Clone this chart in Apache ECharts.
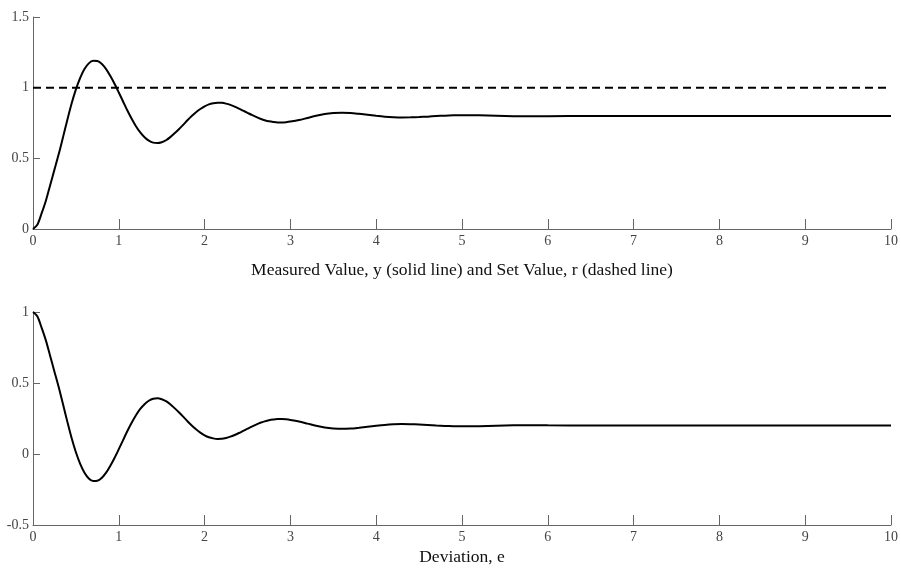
<!DOCTYPE html>
<html>
<head>
<meta charset="utf-8">
<script src="https://cdn.jsdelivr.net/npm/echarts@6/dist/echarts.min.js"></script>
<style>html,body{margin:0;padding:0;background:#fff;}#c{width:901px;height:573px;}</style>
</head>
<body>
<div id="c"></div>
<script>
var timeValues = [0,0.05,0.1,0.15,0.2,0.25,0.3,0.35,0.4,0.45,0.5,0.55,0.6,0.65,0.7,0.75,0.8,0.85,0.9,0.95,1.0,1.05,1.1,1.15,1.2,1.25,1.3,1.35,1.4,1.45,1.5,1.55,1.6,1.65,1.7,1.75,1.8,1.85,1.9,1.95,2.0,2.05,2.1,2.15,2.2,2.25,2.3,2.35,2.4,2.45,2.5,2.55,2.6,2.65,2.7,2.75,2.8,2.85,2.9,2.95,3.0,3.1,3.2,3.3,3.4,3.5,3.6,3.7,3.8,3.9,4.0,4.1,4.2,4.3,4.4,4.5,4.6,4.7,4.8,4.9,5.0,5.2,5.4,5.6,5.8,6.0,6.5,7,8,9,10];
var measuredY = [0,0.03,0.11,0.20,0.31,0.42,0.53,0.65,0.772,0.888,0.988,1.070,1.132,1.172,1.190,1.188,1.169,1.133,1.084,1.028,0.966,0.902,0.838,0.780,0.727,0.683,0.649,0.625,0.611,0.608,0.614,0.628,0.650,0.677,0.706,0.737,0.769,0.799,0.826,0.849,0.868,0.882,0.890,0.894,0.893,0.887,0.878,0.866,0.852,0.837,0.822,0.807,0.793,0.780,0.770,0.762,0.757,0.754,0.754,0.756,0.760,0.771,0.786,0.801,0.813,0.820,0.823,0.821,0.815,0.808,0.801,0.795,0.791,0.789,0.790,0.792,0.795,0.799,0.802,0.804,0.805,0.804,0.801,0.798,0.797,0.798,0.800,0.800,0.800,0.800,0.800];
var deviationE = [1,0.97,0.89,0.80,0.69,0.58,0.47,0.35,0.228,0.112,0.012,-0.070,-0.132,-0.172,-0.190,-0.188,-0.169,-0.133,-0.084,-0.028,0.034,0.098,0.162,0.220,0.273,0.317,0.351,0.375,0.389,0.392,0.386,0.372,0.350,0.323,0.294,0.263,0.231,0.201,0.174,0.151,0.132,0.118,0.110,0.106,0.107,0.113,0.122,0.134,0.148,0.163,0.178,0.193,0.207,0.220,0.230,0.238,0.243,0.246,0.246,0.244,0.240,0.229,0.214,0.199,0.187,0.180,0.177,0.179,0.185,0.192,0.199,0.205,0.209,0.211,0.210,0.208,0.205,0.201,0.198,0.196,0.195,0.196,0.199,0.202,0.203,0.202,0.200,0.200,0.200,0.200,0.200];
var setTimes = [0,10];
var setValue = [1,1];
var xTicks = {min:0, max:10, interval:1};
var topY = {min:0, max:1.5, interval:0.5};
var bottomY = {min:-0.5, max:1, interval:0.5};
var topTitle = 'Measured Value, y (solid line) and Set Value, r (dashed line)';
var bottomTitle = 'Deviation, e';

function pairs(xs, ys){ return xs.map(function(x,i){ return [x, ys[i]]; }); }

var font = 'Liberation Serif, Times New Roman, serif';
var axisColor = '#666';
function xAxisCfg(idx, title, gap){
  return {
    type:'value', gridIndex:idx, min:xTicks.min, max:xTicks.max, interval:xTicks.interval,
    axisLine:{show:true, onZero:false, lineStyle:{color:axisColor, width:1}},
    axisTick:{show:true, inside:true, length:10, lineStyle:{color:axisColor}},
    axisLabel:{color:'#444', fontFamily:font, fontSize:14, margin:5},
    splitLine:{show:false},
    name:title, nameLocation:'middle', nameGap:gap,
    nameTextStyle:{color:'#111', fontFamily:font, fontSize:17.5}
  };
}
function yAxisCfg(idx, r){
  return {
    type:'value', gridIndex:idx, min:r.min, max:r.max, interval:r.interval,
    axisLine:{show:true, onZero:false, lineStyle:{color:axisColor, width:1}},
    axisTick:{show:true, inside:true, length:7, lineStyle:{color:axisColor}},
    axisLabel:{color:'#444', fontFamily:font, fontSize:14, margin:4},
    splitLine:{show:false}
  };
}

var chart = echarts.init(document.getElementById('c'), null, {renderer:'canvas'});
chart.setOption({
  animation:false,
  backgroundColor:'#fff',
  grid:[
    {left:33, right:9, top:17, height:212},
    {left:33, right:9, top:312, height:213}
  ],
  xAxis:[xAxisCfg(0, topTitle, 32), xAxisCfg(1, bottomTitle, 23)],
  yAxis:[yAxisCfg(0, topY), yAxisCfg(1, bottomY)],
  series:[
    {type:'line', xAxisIndex:0, yAxisIndex:0, data:pairs(timeValues, measuredY), smooth:0.3, showSymbol:false,
      lineStyle:{color:'#000', width:2}},
    {type:'line', xAxisIndex:0, yAxisIndex:0, data:pairs(setTimes, setValue), showSymbol:false,
      lineStyle:{color:'#000', width:2, type:[8,5]}},
    {type:'line', xAxisIndex:1, yAxisIndex:1, data:pairs(timeValues, deviationE), smooth:0.3, showSymbol:false,
      lineStyle:{color:'#000', width:2}}
  ]
});
</script>
</body>
</html>
